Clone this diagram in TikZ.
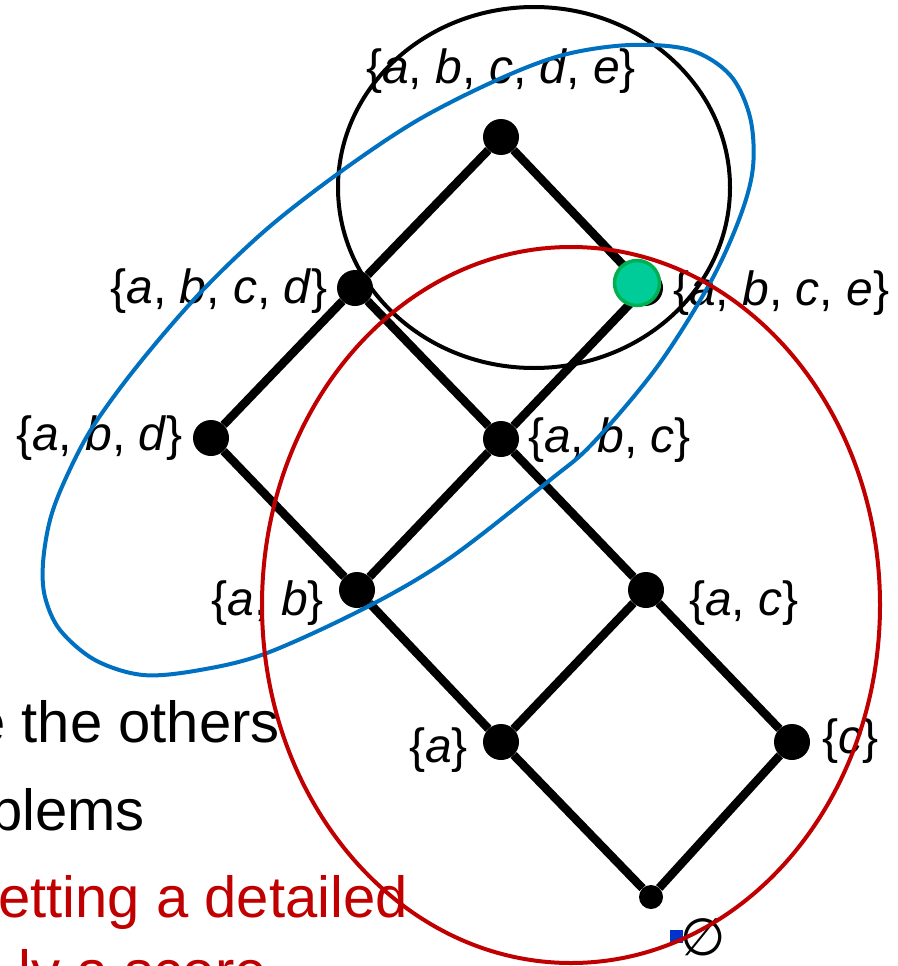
\documentclass[tikz,border=0pt]{standalone}
\usepackage{fontspec}
\setmainfont{Liberation Sans}
\newfontfamily\symfont{DejaVu Sans}
\usetikzlibrary{positioning}

\definecolor{setred}{HTML}{C00000}
\definecolor{setblue}{HTML}{0070C0}
\definecolor{markblue}{HTML}{0033CC}
\definecolor{hitfill}{HTML}{00CC99}
\definecolor{hitdraw}{HTML}{00B050}

\newcommand{\el}[1]{\textit{#1}}

\begin{document}
\begin{tikzpicture}[
    x=1pt, y=-1pt,
    dot/.style={circle, fill=black, inner sep=0pt, minimum size=36pt},
    bottomdot/.style={dot, minimum size=24pt},
    hit/.style={circle, fill=hitfill, draw=hitdraw, line width=3.5pt,
                inner sep=0pt, minimum size=45pt},
    setlbl/.style={inner sep=0pt, font=\fontsize{48}{58}\selectfont},
    bullet/.style={inner sep=0pt, anchor=base east,
                   font=\fontsize{58}{70}\selectfont},
    link/.style={line width=8.5pt},
    ring/.style={line width=4pt},
]
\useasboundingbox (0,0) rectangle (897,966);
\clip (0,0) rectangle (897,966);

%% --- Slide text behind the lattice -----------------------------------------
\node[bullet] (txt_others) at (280,742) {e the others};
\node[bullet] (txt_blems)  at (145,830) {blems};
\node[bullet, text=setred] (txt_detail) at (408,917) {etting a detailed};
\node[bullet, text=setred] (txt_score)  at (267,991) {ly a score};

%% --- Lattice points -----------------------------------------------------------
\node[dot] (abcde) at (501,137) {};
\node[dot] (abcd)  at (355,288) {};
\node[dot] (abce)  at (645,288) {};
\node[dot] (abd)   at (211,438) {};
\node[dot] (abc)   at (501,439) {};
\node[dot] (ab)    at (357,590) {};
\node[dot] (ac)    at (646,590) {};
\node[dot] (na)    at (501,742) {};
\node[dot] (nc)    at (792,742) {};
\node[bottomdot] (empty) at (651,897) {};

%% --- Covering relations -------------------------------------------------------
\draw[link] (abcde) -- (abcd);
\draw[link] (abcde) -- (abce);
\draw[link] (abcd)  -- (abd);
\draw[link] (abcd)  -- (abc);
\draw[link] (abce)  -- (abc);
\draw[link] (abd)   -- (ab);
\draw[link] (abc)   -- (ab);
\draw[link] (abc)   -- (ac);
\draw[link] (ab)    -- (na);
\draw[link] (ac)    -- (na);
\draw[link] (ac)    -- (nc);
\draw[link] (na)    -- (empty);
\draw[link] (nc)    -- (empty);

%% --- Marked point -------------------------------------------------------------
\node[hit] (mark) at (637,283) {};

%% --- Set labels ---------------------------------------------------------------
\node[setlbl, anchor=base] (l_abcde) at (501,83)
    {\{\el{a}, \el{b}, \el{c}, \el{d}, \el{e}\}};
\node[setlbl, anchor=base east] (l_abcd) at (328,303)
    {\{\el{a}, \el{b}, \el{c}, \el{d}\}};
\node[setlbl, anchor=base west] (l_abce) at (673,305)
    {\{\el{a}, \el{b}, \el{c}, \el{e}\}};
\node[setlbl, anchor=base east] (l_abd) at (183,450)
    {\{\el{a}, \el{b}, \el{d}\}};
\node[setlbl, anchor=base west] (l_abc) at (528,452)
    {\{\el{a}, \el{b}, \el{c}\}};
\node[setlbl, anchor=base east] (l_ab) at (324,615)
    {\{\el{a}, \el{b}\}};
\node[setlbl, anchor=base west] (l_ac) at (689,615)
    {\{\el{a}, \el{c}\}};
\node[setlbl, anchor=base east] (l_a) at (468,762)
    {\{\el{a}\}};
\node[setlbl, anchor=base west] (l_c) at (822,753)
    {\{\el{c}\}};
\node[inner sep=0pt, font=\symfont\fontsize{52}{54}\selectfont]
    (l_empty) at (703,937) {∅};
\node[fill=markblue, inner sep=0pt, minimum size=13pt] (cursor) at (676,936) {};

%% --- Groupings ----------------------------------------------------------------
\draw[ring] (534,187.5) ellipse [x radius=196, y radius=180.5];
\draw[ring, setblue] plot[smooth cycle, tension=0.55] coordinates {
    (563,55) (630,45) (690,50) (730,75) (750,117) (753,167) (740,217)
    (710,283) (657,367) (593,443) (550,480) (450,558) (367,607) (267,653)
    (200,670) (143,675) (95,660) (60,630) (45,597) (43,563) (50,520)
    (65,480) (92,428) (138,365) (200,293) (268,228) (343,170) (418,120)
    (497,80)};
\draw[ring, setred] (571,605) ellipse [x radius=309, y radius=358];

\end{tikzpicture}
\end{document}
